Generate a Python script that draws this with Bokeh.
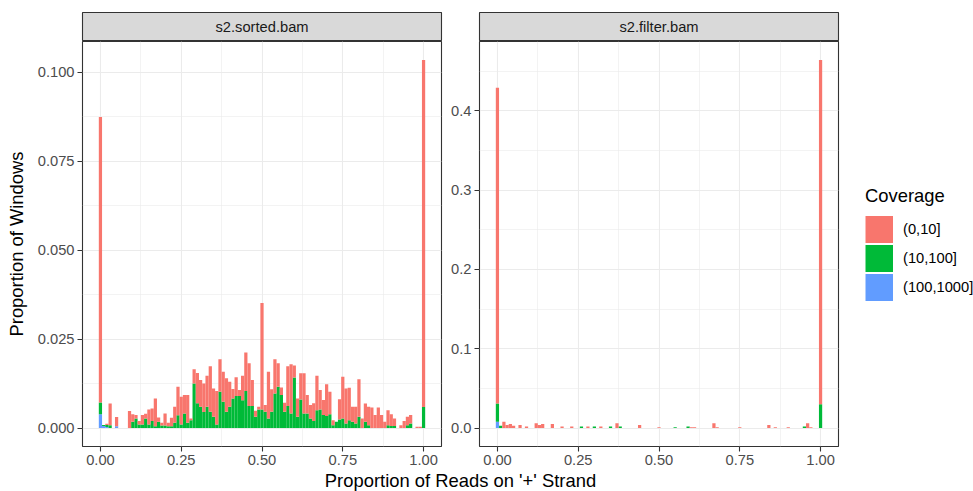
from bokeh.plotting import figure
from bokeh.models import (FixedTicker, NumeralTickFormatter, Range1d, Legend,
                          LegendItem, ColumnDataSource)
from bokeh.layouts import column, row
from bokeh.embed import file_html
from bokeh.resources import INLINE
from bokeh.core.properties import value

FONT = "Liberation Sans"

# ---------------- data ----------------
panels = ["s2.sorted.bam", "s2.filter.bam"]
coverage_levels = ["(0,10]", "(10,100]", "(100,1000]"]
bin_centers = [round(i * 0.01, 2) for i in range(101)]
bin_width = 0.01

# s2.sorted.bam : proportion of windows per bin, by coverage class
sorted_0_10 = [
    .0802, 0, .0003, .0061, 0, .0026, 0, 0, 0, .0048,
    .0021, .0010, .0010, .0027, .0013, .0042, .0035, .0078, .0012, .0008,
    .0034, .0010, .0024, .0045, .0080, .0078, .0052, .0078, .0005, .0040,
    .0085, .0075, .0080, .0087, .0128, .0079, .0094, .0091, .0084, .0094,
    .0070, .0027, .0053, .0017, .0069, .0108, .0120, .0073, .0017, .0008,
    .0299, .0019, .0131, .0063, .0096, .0066, .0021, .0025, .0112, .0138,
    .0034, .0051, .0074, .0113, .0052, .0038, .0050, .0097, .0055, .0042,
    .0089, .0063, .0014, 0, .0057, .0117, .0098, .0091, .0042, .0047,
    .0105, .0027, .0051, .0052, .0058, .0037, .0058, .0037, .0018, .0042,
    .0033, .0021, 0, .0008, .0020, .0024, .0024, 0, .0004, .0004,
    .0975]
sorted_10_100 = [
    .0033, .0003, .0006, .0008, 0, 0, 0, 0, 0, 0,
    .0018, .0027, .0010, .0010, .0027, .0010, .0020, .0005, .0018, .0007,
    .0007, .0005, .0005, .0015, .0036, .0010, .0041, .0015, .0022, .0125,
    .0070, .0060, .0045, .0060, .0046, .0032, .0010, .0102, .0074, .0046,
    .0060, .0083, .0090, .0090, .0078, .0104, .0062, .0062, .0032, .0052,
    .0052, .0046, .0027, .0046, .0097, .0116, .0093, .0046, .0062, .0041,
    .0142, .0032, .0080, .0041, .0041, .0027, .0020, .0050, .0052, .0037,
    .0034, .0039, .0008, .0018, .0024, .0027, .0013, .0022, .0018, .0013,
    .0032, 0, .0018, .0008, 0, 0, 0, 0, 0, .0008,
    .0006, .0006, 0, 0, 0, .0008, .0013, 0, 0, 0,
    .0059]
sorted_100_1000 = [.0039, .0006, .0003, 0, 0, .0005] + [0] * 95

# s2.filter.bam
filter_0_10 = [
    .398, 0, .008, .004, .005, .003, 0, .004, 0, .002,
    0, 0, .006, .004, .005, 0, 0, .005, 0, 0,
    .002, 0, 0, .002, 0, 0, 0, 0, .002, 0,
    0, 0, .002, 0, 0, 0, 0, .006, 0, 0,
    0, 0, 0, 0, .004, 0, 0, 0, 0, 0,
    .001, 0, 0, 0, 0, 0, 0, 0, 0, 0,
    .001, .001, 0, 0, 0, 0, 0, .006, .001, 0,
    0, 0, 0, 0, 0, .001, 0, 0, 0, 0,
    0, 0, 0, 0, .004, 0, .001, 0, 0, 0,
    .001, 0, 0, 0, 0, 0, .006, .001, 0, 0,
    .434]
filter_10_100 = [
    .023, .003, 0, 0, 0, 0, 0, 0, 0, 0,
    0, 0, 0, 0, 0, 0, 0, 0, 0, 0,
    0, 0, 0, 0, 0, 0, .002, 0, 0, 0,
    .002, 0, 0, 0, 0, .002, 0, 0, .002, 0,
    0, 0, 0, 0, 0, 0, 0, 0, 0, 0,
    0, 0, 0, 0, 0, .001, 0, 0, 0, .002,
    0, 0, 0, 0, 0, 0, 0, 0, 0, 0,
    0, 0, 0, 0, 0, 0, 0, 0, 0, 0,
    0, 0, 0, 0, 0, 0, 0, 0, 0, 0,
    0, 0, 0, 0, 0, .002, 0, 0, 0, 0,
    .030]
filter_100_1000 = [.008] + [0] * 100

x_ticks = [0, 0.25, 0.5, 0.75, 1.0]
x_minor = [0.125, 0.375, 0.625, 0.875]
y_ticks_sorted = [0, 0.025, 0.05, 0.075, 0.1]
y_minor_sorted = [0.0125, 0.0375, 0.0625, 0.0875]
y_ticks_filter = [0, 0.1, 0.2, 0.3, 0.4]
y_minor_filter = [0.05, 0.15, 0.25, 0.35, 0.45]

colors = {"(0,10]": "#F8766D", "(10,100]": "#00BA38", "(100,1000]": "#619CFF"}

# --------------- styling helpers ---------------
FRAME_W, FRAME_H = 359, 405
BOTTOM = 22
GRID = "#EBEBEB"
DARK = "#333333"
STACK_COLORS = [colors["(100,1000]"], colors["(10,100]"], colors["(0,10]"]]


def expand(lo, hi, frac=0.05):
    d = (hi - lo) * frac
    return lo - d, hi + d


def make_panel(lo_s, mid_s, hi_s, yt, ym, yfmt, left, right, ylabel=None):
    src = ColumnDataSource(dict(x=bin_centers, hi=hi_s, mid=mid_s, lo=lo_s))
    tops = [a + b + c for a, b, c in zip(lo_s, mid_s, hi_s)]
    x0, x1 = expand(bin_centers[0] - bin_width / 2, bin_centers[-1] + bin_width / 2)
    y0, y1 = expand(0, max(tops))
    p = figure(frame_width=FRAME_W, frame_height=FRAME_H,
               x_range=Range1d(x0, x1), y_range=Range1d(y0, y1),
               output_backend="svg", toolbar_location=None,
               min_border_left=left, min_border_right=right,
               min_border_top=0, min_border_bottom=BOTTOM)
    p.vbar_stack(["hi", "mid", "lo"], x="x", width=bin_width, source=src,
                 fill_color=STACK_COLORS, line_color=None)
    p.background_fill_color = "white"
    p.border_fill_color = "white"
    p.outline_line_color = DARK
    p.outline_line_width = 1.1
    p.xaxis.ticker = FixedTicker(ticks=x_ticks, minor_ticks=x_minor)
    p.yaxis.ticker = FixedTicker(ticks=yt, minor_ticks=ym)
    p.xaxis.formatter = NumeralTickFormatter(format="0.00")
    p.yaxis.formatter = NumeralTickFormatter(format=yfmt)
    for ax in (p.xaxis[0], p.yaxis[0]):
        ax.axis_line_color = None
        ax.major_tick_line_color = DARK
        ax.major_tick_line_width = 1.1
        ax.major_tick_out = 5
        ax.major_tick_in = 0
        ax.minor_tick_line_color = None
        ax.major_label_text_font = FONT
        ax.major_label_text_font_size = "14.7px"
        ax.major_label_text_color = "#4D4D4D"
        ax.major_label_standoff = 3
    p.xgrid.grid_line_color = GRID
    p.ygrid.grid_line_color = GRID
    p.xgrid.grid_line_width = 1.1
    p.ygrid.grid_line_width = 1.1
    p.xgrid.minor_grid_line_color = GRID
    p.ygrid.minor_grid_line_color = GRID
    p.xgrid.minor_grid_line_width = 0.6
    p.ygrid.minor_grid_line_width = 0.6
    if ylabel:
        p.yaxis.axis_label = ylabel
        p.yaxis.axis_label_text_font = FONT
        p.yaxis.axis_label_text_font_size = "18.4px"
        p.yaxis.axis_label_text_font_style = "normal"
        p.yaxis.axis_label_text_color = "black"
        p.yaxis.axis_label_standoff = 8
    return p, src


def make_strip(label, left, right):
    s = figure(frame_width=FRAME_W, frame_height=29,
               x_range=Range1d(0, 1), y_range=Range1d(0, 1),
               x_axis_location=None, y_axis_location=None,
               output_backend="svg", toolbar_location=None,
               min_border_left=left, min_border_right=right,
               min_border_top=12, min_border_bottom=0)
    s.grid.visible = False
    s.background_fill_color = "#D9D9D9"
    s.border_fill_color = "white"
    s.outline_line_color = DARK
    s.outline_line_width = 1.1
    s.text(x=[0.5], y=[0.5], text=[label], text_align="center",
           text_baseline="middle", text_font=value(FONT),
           text_font_size="14.7px", text_color="#1A1A1A")
    return s


LEFT1, RIGHT1, LEFT2, RIGHT2 = 82, 2, 36, 2

p1, _ = make_panel(sorted_0_10, sorted_10_100, sorted_100_1000,
                   y_ticks_sorted, y_minor_sorted, "0.000", LEFT1, RIGHT1,
                   ylabel="Proportion of Windows")
p2, src2 = make_panel(filter_0_10, filter_10_100, filter_100_1000,
                      y_ticks_filter, y_minor_filter, "0.0", LEFT2, RIGHT2)

# legend lives in its own small figure to the right of the panels; its key
# renderers reuse the panel data but lie far outside that figure's view
LEG_W = 973 - (LEFT1 + FRAME_W + RIGHT1) - (LEFT2 + FRAME_W + RIGHT2)
lg = figure(width=LEG_W, height=FRAME_H + BOTTOM, x_range=Range1d(50, 60),
            y_range=Range1d(50, 60), x_axis_location=None, y_axis_location=None,
            output_backend="svg", toolbar_location=None, min_border=0)
lg.grid.visible = False
lg.outline_line_color = None
key_cols = {"(0,10]": "lo", "(10,100]": "mid", "(100,1000]": "hi"}
items = []
for lev in coverage_levels:
    r = lg.line(x="x", y=key_cols[lev], source=src2, line_color=colors[lev],
                line_width=27, line_cap="butt")
    items.append(LegendItem(label=lev, renderers=[r]))
legend = Legend(items=items, title="Coverage", location=(25, 145))
legend.title_text_font = FONT
legend.title_text_font_size = "18.4px"
legend.title_text_font_style = "normal"
legend.title_text_color = "black"
legend.title_standoff = 8
legend.label_text_font = FONT
legend.label_text_font_size = "14.7px"
legend.label_text_color = "black"
legend.glyph_width = 28
legend.glyph_height = 28
legend.spacing = 1
legend.label_standoff = 10
legend.border_line_color = None
legend.background_fill_alpha = 0
legend.margin = 0
legend.padding = 10
lg.add_layout(legend, "center")

s1 = make_strip(panels[0], LEFT1, RIGHT1)
s2 = make_strip(panels[1], LEFT2, RIGHT2)

xl = figure(width=973, height=491 - 41 - FRAME_H - BOTTOM,
            x_range=Range1d(0, 973), y_range=Range1d(0, 23),
            x_axis_location=None, y_axis_location=None,
            output_backend="svg", toolbar_location=None, min_border=0)
xl.grid.visible = False
xl.outline_line_color = None
xl.text(x=[460], y=[11], text=["Proportion of Reads on '+' Strand"],
        text_align="center", text_baseline="middle", text_font=value(FONT),
        text_font_size="18.4px", text_color="black")

layout = column(row(s1, s2), row(p1, p2, lg), xl)
open("out.html", "w").write(file_html(layout, INLINE))
